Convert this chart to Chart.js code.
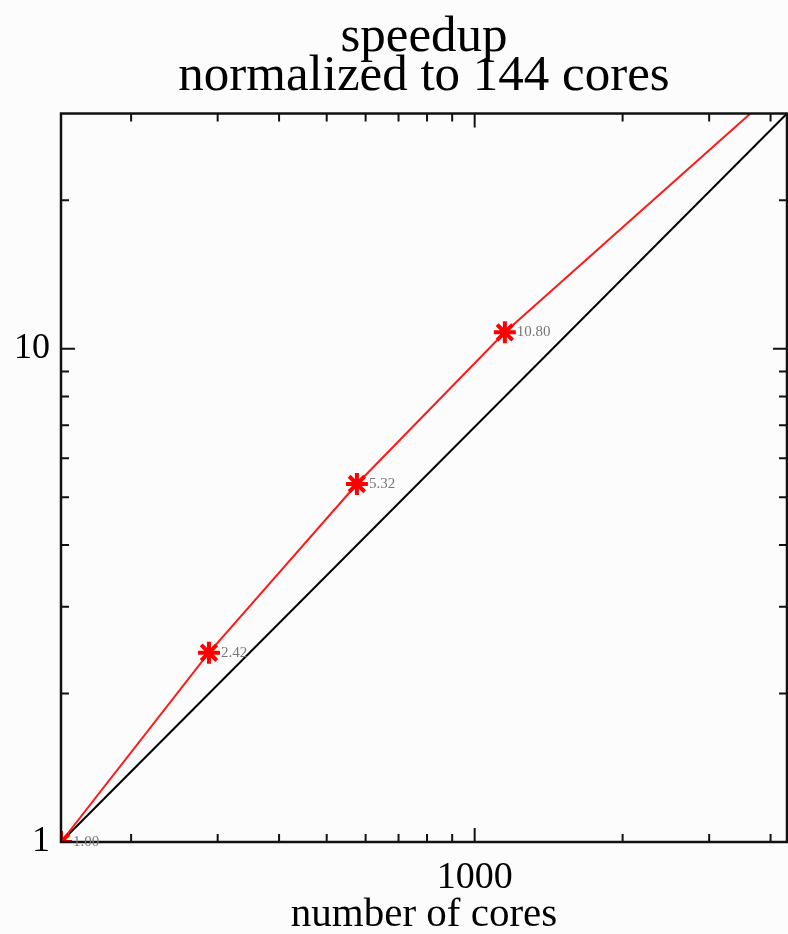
<!DOCTYPE html>
<html>
<head>
<meta charset="utf-8">
<script src="https://cdn.jsdelivr.net/npm/chart.js@4/dist/chart.umd.min.js"></script>
<style>
  body { margin: 0; background: #fcfcfc; overflow: hidden; }
  canvas { display: block; }
</style>
</head>
<body>
<canvas id="myChart" width="788" height="934"></canvas>
<script>
// measured speedup (last point only carries the red line past the top edge)
const cores = [144, 288, 576, 1152, 4608];
const speedup = [1.00, 2.42, 5.32, 10.80, 37.0];
const speedupLabels = ['1.00', '2.42', '5.32', '10.80', ''];

// ideal linear speedup
const idealCores = [144, 4320];
const idealSpeedup = [1, 30];

// tick marks and labels
const xMinorTicks = [200, 300, 400, 500, 600, 700, 800, 900, 2000, 3000, 4000];
const xMajorTicks = [1000];
const xTickLabels = [1000];
const yMinorTicks = [2, 3, 4, 5, 6, 7, 8, 9, 20];
const yMajorTicks = [1, 10];
const yTickLabels = [1, 10];

const serif = "'Liberation Serif', 'DejaVu Serif', serif";

const toPoints = (xs, ys) => xs.map((x, i) => ({ x: x, y: ys[i] }));

const buildTicks = (minor, major) => scale => {
    const all = minor.map(v => ({ value: v, major: false }))
        .concat(major.map(v => ({ value: v, major: true })));
    all.sort((a, b) => a.value - b.value);
    scale.ticks = all;
};

// inward tick marks on all four sides + frame
const framePlugin = {
    id: 'frame',
    afterDatasetsDraw(chart) {
        const { ctx, chartArea: a, scales } = chart;
        ctx.save();
        ctx.strokeStyle = '#111';
        ctx.lineWidth = 2;
        scales.x.ticks.forEach(t => {
            const px = scales.x.getPixelForValue(t.value);
            const len = t.major ? 14 : 8;
            ctx.beginPath();
            ctx.moveTo(px, a.bottom); ctx.lineTo(px, a.bottom - len);
            ctx.moveTo(px, a.top); ctx.lineTo(px, a.top + len);
            ctx.stroke();
        });
        scales.y.ticks.forEach(t => {
            const py = scales.y.getPixelForValue(t.value);
            const len = t.major ? 14 : 8;
            ctx.beginPath();
            ctx.moveTo(a.left, py); ctx.lineTo(a.left + len, py);
            ctx.moveTo(a.right, py); ctx.lineTo(a.right - len, py);
            ctx.stroke();
        });
        ctx.lineWidth = 2.5;
        ctx.strokeRect(a.left, a.top, a.right - a.left, a.bottom - a.top);
        ctx.restore();
    }
};

// small value labels beside each marker
const valueLabels = {
    id: 'valueLabels',
    afterDatasetsDraw(chart) {
        const { ctx } = chart;
        const meta = chart.getDatasetMeta(0);
        ctx.save();
        ctx.font = '15px ' + serif;
        ctx.fillStyle = '#777';
        ctx.textBaseline = 'middle';
        meta.data.forEach((pt, i) => {
            if (speedupLabels[i]) ctx.fillText(speedupLabels[i], pt.x + 12, pt.y);
        });
        ctx.restore();
    }
};

const ctx = document.getElementById('myChart').getContext('2d');
let myChart = new Chart(ctx, {
    type: 'line',
    data: {
        datasets: [
            {
                label: 'speedup',
                data: toPoints(cores, speedup),
                borderColor: '#ff1a1a',
                borderWidth: 2,
                pointStyle: 'star',
                pointRadius: [11, 11, 11, 11, 0],
                pointBorderColor: '#ff0000',
                pointBorderWidth: 4,
                pointBackgroundColor: '#ff0000',
                clip: 0
            },
            {
                label: 'ideal',
                data: toPoints(idealCores, idealSpeedup),
                borderColor: '#000',
                borderWidth: 2,
                pointRadius: 0,
                clip: 0
            }
        ]
    },
    options: {
        responsive: false,
        animation: false,
        layout: { autoPadding: false, padding: { left: 0, right: 1, top: 0, bottom: 0 } },
        plugins: {
            legend: { display: false },
            tooltip: { enabled: false },
            title: {
                display: true,
                fullSize: false,
                text: ['speedup', 'normalized to 144 cores'],
                color: '#000',
                font: { family: serif, size: 51, weight: 'normal', lineHeight: 0.76 },
                padding: { top: 18, bottom: 18 }
            }
        },
        scales: {
            x: {
                type: 'logarithmic',
                min: 144,
                max: 4320,
                afterBuildTicks: buildTicks(xMinorTicks, xMajorTicks),
                afterFit: s => { s.height = 92; s.paddingLeft = 0; s.paddingRight = 0; },
                grid: { display: false, drawTicks: false },
                border: { display: false },
                ticks: {
                    autoSkip: false,
                    maxRotation: 0,
                    padding: 13,
                    color: '#000',
                    font: { family: serif, size: 38 },
                    callback: v => xTickLabels.includes(v) ? String(v) : ''
                },
                title: {
                    display: true,
                    text: 'number of cores',
                    color: '#000',
                    font: { family: serif, size: 41, lineHeight: 0.9 },
                    padding: 0
                }
            },
            y: {
                type: 'logarithmic',
                min: 1,
                max: 30,
                afterBuildTicks: buildTicks(yMinorTicks, yMajorTicks),
                afterFit: s => { s.width = 61; s.paddingTop = 0; s.paddingBottom = 0; },
                grid: { display: false, drawTicks: false },
                border: { display: false },
                ticks: {
                    autoSkip: false,
                    padding: 11,
                    color: '#000',
                    font: { family: serif, size: 36 },
                    callback: v => yTickLabels.includes(v) ? String(v) : ''
                }
            }
        }
    },
    plugins: [framePlugin, valueLabels]
});
</script>
</body>
</html>
